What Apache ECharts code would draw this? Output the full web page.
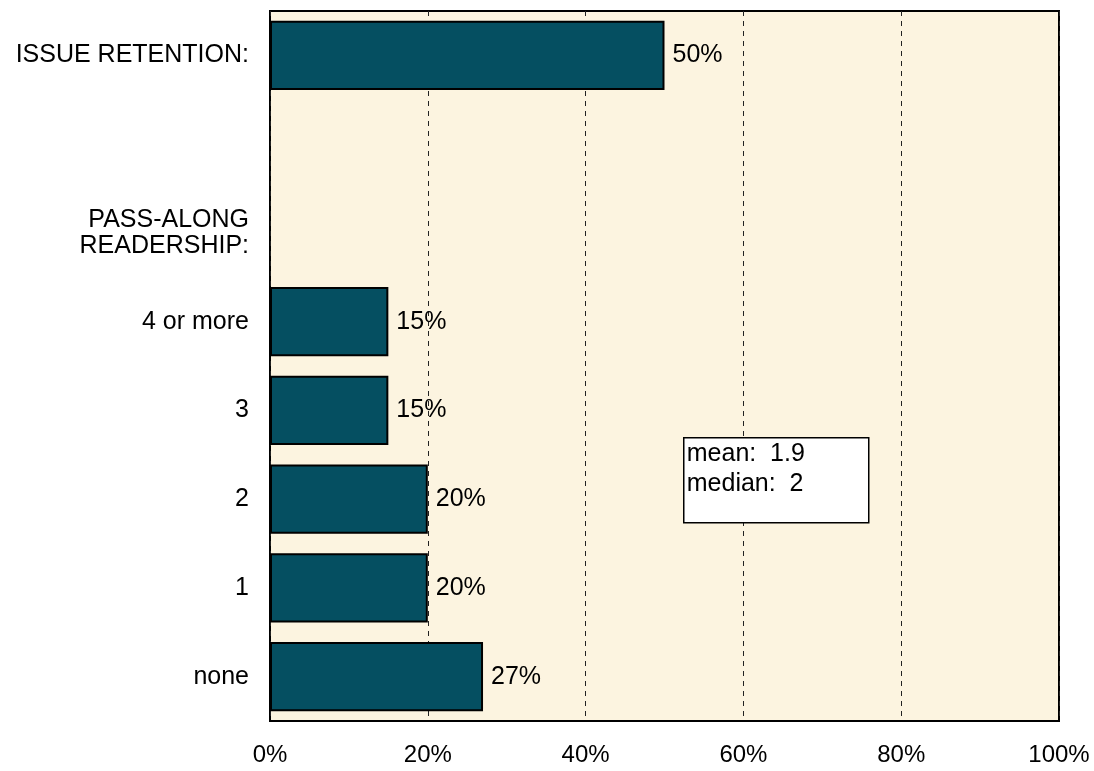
<!DOCTYPE html>
<html>
<head>
<meta charset="utf-8">
<style>html,body{margin:0;padding:0;background:#fff;}#c{width:1094px;height:771px;}</style>
<script src="https://cdn.jsdelivr.net/npm/echarts@6/dist/echarts.min.js"></script>
</head>
<body>
<div id="c"></div>
<script>
const categories = ['ISSUE RETENTION:', '', 'PASS-ALONG\nREADERSHIP:', '4 or more', '3', '2', '1', 'none'];
const values = [50, null, null, 15, 15, 20, 20, 27];
const xTicks = [0, 20, 40, 60, 80, 100];
const noteLines = ['mean:  1.9', 'median:  2'];

const chart = echarts.init(document.getElementById('c'));
const FONT = '"Liberation Sans", Arial, sans-serif';
chart.setOption({
  animation: false,
  grid: {
    left: 270, right: 35, top: 11, bottom: 50,
    show: true, backgroundColor: '#FCF4E0', borderColor: '#000', borderWidth: 2,
    containLabel: false
  },
  xAxis: {
    type: 'value', min: xTicks[0], max: xTicks[xTicks.length - 1], interval: 20,
    axisLine: { show: false }, axisTick: { show: false },
    splitLine: { show: true, lineStyle: { color: '#222', type: [5, 5], width: 1 } },
    axisLabel: { formatter: v => v + '%', fontFamily: FONT, fontSize: 24, color: '#000', margin: 22 }
  },
  yAxis: {
    type: 'category', data: categories, inverse: true,
    axisLine: { show: false }, axisTick: { show: false },
    axisLabel: { fontFamily: FONT, fontSize: 25, color: '#000', margin: 21, lineHeight: 26, align: 'right' }
  },
  series: [{
    type: 'bar', data: values, barCategoryGap: '22%',
    itemStyle: { color: '#054F61', borderColor: '#000', borderWidth: 2 },
    label: { show: true, position: 'right', distance: 8, formatter: p => p.value + '%', fontFamily: FONT, fontSize: 25, color: '#000' }
  }],
  graphic: [{
    type: 'group', left: 683, top: 437, z: 100,
    children: [
      { type: 'rect', z: 100, shape: { x: 0, y: 0, width: 185, height: 85 }, style: { fill: '#fff', stroke: '#000', lineWidth: 1.5 } },
      { type: 'text', z: 101, x: 3, y: 1, style: { text: noteLines.join('\n'), font: '25px ' + FONT, fill: '#000', lineHeight: 30 } }
    ]
  }]
});
</script>
</body>
</html>
